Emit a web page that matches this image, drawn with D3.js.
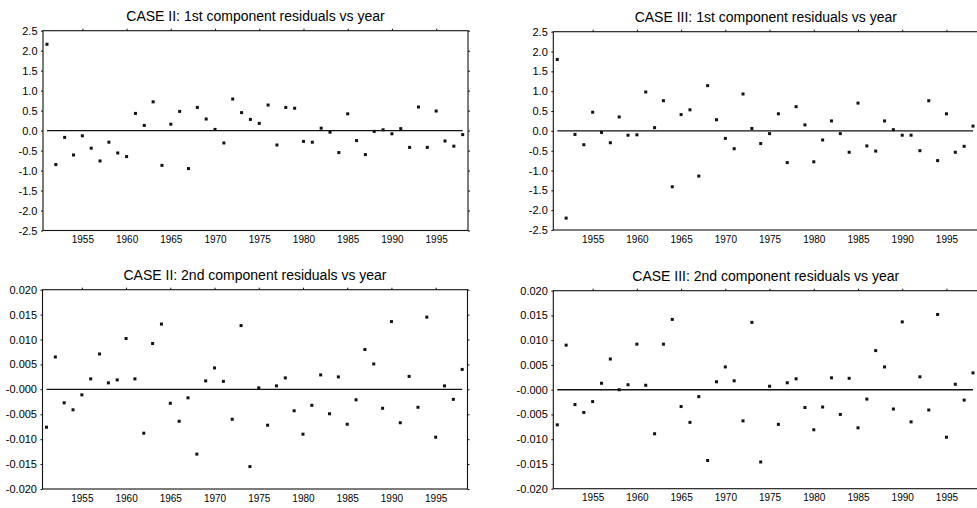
<!DOCTYPE html>
<html>
<head>
<meta charset="utf-8">
<script src="https://cdn.jsdelivr.net/npm/d3@7"></script>
<style>
  body { margin: 0; background: #fff; }
  svg { display: block; }
  .title { font-family: "Liberation Sans", Arial, sans-serif; font-size: 14px; fill: #000; }
  .yax text { font-family: "Liberation Sans", Arial, sans-serif; font-size: 11px; fill: #000; }
  .xax text { font-family: "Liberation Sans", Arial, sans-serif; font-size: 10px; fill: #000; }
  .tick line { stroke: #111; }
</style>
</head>
<body>
<div id="chart"></div>
<script>
var svgWidth = 977
var svgHeight = 508

// data
var years = [1951, 1952, 1953, 1954, 1955, 1956, 1957, 1958, 1959, 1960,
  1961, 1962, 1963, 1964, 1965, 1966, 1967, 1968, 1969, 1970,
  1971, 1972, 1973, 1974, 1975, 1976, 1977, 1978, 1979, 1980,
  1981, 1982, 1983, 1984, 1985, 1986, 1987, 1988, 1989, 1990,
  1991, 1992, 1993, 1994, 1995, 1996, 1997, 1998];

var case2First = [2.16, -0.85, -0.17, -0.61, -0.13, -0.44, -0.76, -0.29, -0.56, -0.65,
  0.43, 0.13, 0.72, -0.87, 0.16, 0.48, -0.95, 0.58, 0.29, 0.03,
  -0.31, 0.79, 0.45, 0.28, 0.18, 0.64, -0.36, 0.58, 0.56, -0.27,
  -0.29, 0.06, -0.04, -0.55, 0.42, -0.25, -0.60, -0.02, 0.02, -0.08,
  0.05, -0.42, 0.59, -0.42, 0.49, -0.26, -0.39, -0.10];

var case3First = [1.80, -2.20, -0.09, -0.35, 0.47, -0.04, -0.30, 0.35, -0.11, -0.10,
  0.98, 0.08, 0.76, -1.41, 0.41, 0.53, -1.14, 1.14, 0.28, -0.19,
  -0.45, 0.93, 0.06, -0.32, -0.07, 0.43, -0.80, 0.61, 0.15, -0.78,
  -0.23, 0.25, -0.07, -0.54, 0.70, -0.38, -0.51, 0.25, 0.03, -0.11,
  -0.11, -0.50, 0.76, -0.75, 0.43, -0.54, -0.39, 0.12];

var case2Second = [-0.0076, 0.0065, -0.0027, -0.0041, -0.0011, 0.0021, 0.0071, 0.0013, 0.0019, 0.0102,
  0.0021, -0.0088, 0.0092, 0.0131, -0.0028, -0.0064, -0.0017, -0.0130, 0.0017, 0.0043,
  0.0016, -0.0060, 0.0128, -0.0155, 0.0003, -0.0072, 0.0007, 0.0023, -0.0043, -0.0090,
  -0.0032, 0.0029, -0.0049, 0.0025, -0.0070, -0.0021, 0.0080, 0.0051, -0.0038, 0.0136,
  -0.0067, 0.0026, -0.0036, 0.0145, -0.0096, 0.0007, -0.0020, 0.0040];

var case3Second = [-0.0071, 0.0090, -0.0030, -0.0046, -0.0024, 0.0013, 0.0062, 0.0000, 0.0010, 0.0092,
  0.0009, -0.0089, 0.0092, 0.0142, -0.0034, -0.0066, -0.0014, -0.0143, 0.0016, 0.0046,
  0.0018, -0.0063, 0.0136, -0.0146, 0.0007, -0.0070, 0.0014, 0.0022, -0.0036, -0.0081,
  -0.0035, 0.0024, -0.0050, 0.0023, -0.0077, -0.0019, 0.0079, 0.0046, -0.0039, 0.0137,
  -0.0065, 0.0026, -0.0041, 0.0152, -0.0096, 0.0011, -0.0021, 0.0034];

var yearTicks = [1955, 1960, 1965, 1970, 1975, 1980, 1985, 1990, 1995];

var firstTicks = [2.5, 2.0, 1.5, 1.0, 0.5, 0.0, -0.5, -1.0, -1.5, -2.0, -2.5];
var firstTickLabels = ["2.5", "2.0", "1.5", "1.0", "0.5", "0.0", "-0.5", "-1.0", "-1.5", "-2.0", "-2.5"];

var secondTicks = [0.02, 0.015, 0.01, 0.005, 0, -0.005, -0.01, -0.015, -0.02];
var secondTickLabels = ["0.020", "0.015", "0.010", "0.005", "-0.000", "-0.005", "-0.010", "-0.015", "-0.020"];

var titles = [
  "CASE II: 1st component residuals vs year",
  "CASE III: 1st component residuals vs year",
  "CASE II: 2nd component residuals vs year",
  "CASE III: 2nd component residuals vs year"
];

// panel boxes (pixel layout of each plot area)
var panels = [
  {title: titles[0], values: case2First, ticks: firstTicks, labels: firstTickLabels, x0: 43, x1: 468, y0: 30.7, y1: 230.5},
  {title: titles[1], values: case3First, ticks: firstTicks, labels: firstTickLabels, x0: 553.3, x1: 978.3, y0: 31.7, y1: 230},
  {title: titles[2], values: case2Second, ticks: secondTicks, labels: secondTickLabels, x0: 42.5, x1: 467.5, y0: 289.7, y1: 489},
  {title: titles[3], values: case3Second, ticks: secondTicks, labels: secondTickLabels, x0: 553.3, x1: 978.3, y0: 290.7, y1: 488.7}
];

var svg = d3.select("#chart")
  .append("svg")
  .attr("width", svgWidth)
  .attr("height", svgHeight);

panels.forEach(function(p) {
  var width = p.x1 - p.x0;
  var height = p.y1 - p.y0;
  var yMax = d3.max(p.ticks);

  var xScale = d3.scaleLinear()
    .domain([1950.55, 1998.6])
    .range([0, width]);

  var yScale = d3.scaleLinear()
    .domain([-yMax, yMax])
    .range([height, 0]);

  var g = svg.append("g")
    .attr("transform", `translate(${p.x0}, ${p.y0})`);

  // left axis with labels
  g.append("g")
    .attr("class", "yax")
    .call(d3.axisLeft(yScale)
      .tickValues(p.ticks)
      .tickSize(2)
      .tickPadding(3.5)
      .tickFormat((d, i) => p.labels[i]))
    .call(a => a.select(".domain").remove());

  // right axis, ticks only
  g.append("g")
    .attr("transform", `translate(${width}, 0)`)
    .call(d3.axisRight(yScale)
      .tickValues(p.ticks)
      .tickSize(2)
      .tickFormat(""))
    .call(a => a.select(".domain").remove());

  // top axis, ticks only
  g.append("g")
    .call(d3.axisTop(xScale)
      .tickValues(yearTicks)
      .tickSize(2)
      .tickFormat(""))
    .call(a => a.select(".domain").remove());

  // bottom axis, labels only
  g.append("g")
    .attr("class", "xax")
    .attr("transform", `translate(0, ${height})`)
    .call(d3.axisBottom(xScale)
      .tickValues(yearTicks)
      .tickSize(0)
      .tickPadding(5.7)
      .tickFormat(d3.format("d")))
    .call(a => a.select(".domain").remove());

  g.append("rect")
    .attr("x", 0)
    .attr("y", 0)
    .attr("width", width)
    .attr("height", height)
    .attr("fill", "none")
    .attr("stroke", "#111")
    .attr("stroke-width", 1.1);

  // zero line, first year to last year
  g.append("line")
    .attr("x1", xScale(years[0]))
    .attr("x2", xScale(years[years.length - 1]))
    .attr("y1", yScale(0))
    .attr("y2", yScale(0))
    .attr("stroke", "#111")
    .attr("stroke-width", 1.4);

  g.selectAll("rect.pt")
    .data(p.values)
    .enter()
    .append("rect")
    .attr("class", "pt")
    .attr("x", (d, i) => xScale(years[i]) - 1.5)
    .attr("y", d => yScale(d) - 1.5)
    .attr("width", 3)
    .attr("height", 3)
    .attr("fill", "#111");

  svg.append("text")
    .attr("class", "title")
    .attr("x", p.x0 + width / 2)
    .attr("y", p.y0 - 10)
    .attr("text-anchor", "middle")
    .text(p.title);
});
</script>
</body>
</html>
